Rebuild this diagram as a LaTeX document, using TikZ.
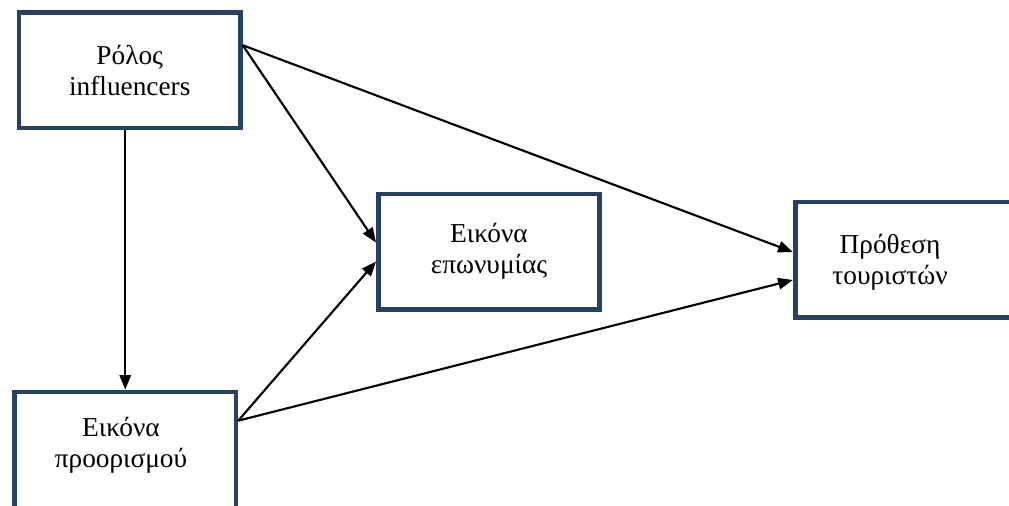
\documentclass[tikz,border=0pt]{standalone}
\usepackage{fontspec}
\setmainfont{Liberation Serif}
\usepackage{tikz}
\usetikzlibrary{arrows.meta,positioning,calc}

\definecolor{boxblue}{RGB}{38,64,102}

\begin{document}
\begin{tikzpicture}[
    x=0.75pt, y=-0.75pt,
    box/.style={draw=boxblue, line width=3.5pt, minimum width=166pt, minimum height=86.5pt, align=center, font=\fontsize{20.5}{23}\selectfont, fill=white},
    txt/.style={align=center, font=\fontsize{20.5}{23}\selectfont},
    arr/.style={-{Triangle[length=11pt,width=8.5pt]}, line width=1.6pt}
]
\path[use as bounding box, fill=white] (0,0) rectangle (1009,506);
\clip (0,0) rectangle (1009,506);

\node[box] (infl) at (129.75,70.25) {Ρόλος\\influencers};
\node[box] (brand) at (489,251.5) {Εικόνα\\επωνυμίας};
\node[box, minimum width=176pt] (intent) at (912.5,259.5) {};
\node[txt] (intentlbl) at (890,262) {Πρόθεση\\τουριστών};
\node[box, minimum height=105pt] (dest) at (125.25,462) {};
\node[txt] (destlbl) at (121,445) {Εικόνα\\προορισμού};

\draw[arr] ($(infl.east)+(0,-25)$) -- ($(brand.west)+(0,-9)$);
\draw[arr] ($(infl.east)+(0,-25)$) -- ($(intent.west)+(0,-7.5)$);
\draw[arr] (infl.south -| dest.north) -- (dest.north);
\draw[arr] ($(dest.north east)+(0,31)$) -- ($(brand.west)+(0,10)$);
\draw[arr] ($(dest.north east)+(0,31)$) -- ($(intent.west)+(0,20.5)$);
\end{tikzpicture}
\end{document}
